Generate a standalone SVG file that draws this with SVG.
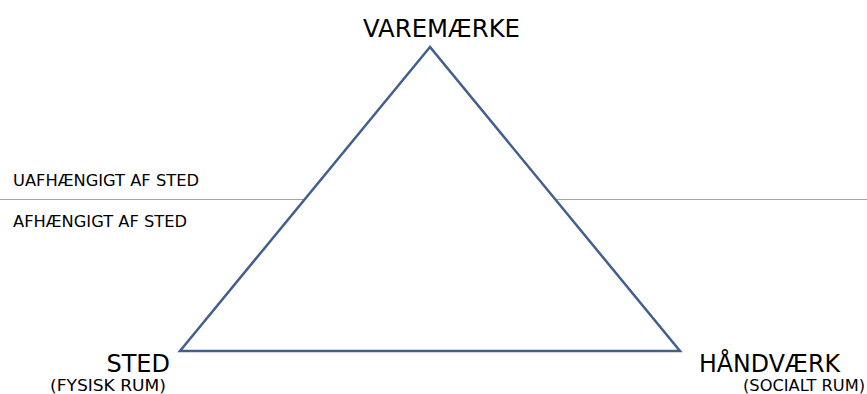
<svg xmlns="http://www.w3.org/2000/svg" width="867" height="394" viewBox="0 0 867 394">
<style>
text{font-family:"DejaVu Sans",Verdana,sans-serif;fill:#000}
.big{font-size:24px}
.small{font-size:16px}
</style>
<rect width="867" height="394" fill="#fff"/>
<g id="connectors">
<line x1="0" y1="199.5" x2="867" y2="199.5" stroke="#86a5dc" stroke-width="1"/>
</g>
<g id="triangle">
<polygon points="430,47 180,351 680,351" fill="#fff" stroke="#41608f" stroke-width="2.5" stroke-linejoin="miter"/>
</g>
<g id="varemaerke"><text class="big" x="363" y="37" textLength="157" lengthAdjust="spacingAndGlyphs">VAREMÆRKE</text></g>
<g id="uafhaengigt"><text class="small" x="13" y="186" textLength="186" lengthAdjust="spacingAndGlyphs">UAFHÆNGIGT AF STED</text></g>
<g id="afhaengigt"><text class="small" x="13" y="227" textLength="174" lengthAdjust="spacingAndGlyphs">AFHÆNGIGT AF STED</text></g>
<g id="sted"><text class="big" x="170" y="372" text-anchor="end">STED</text><text class="small" x="50" y="391" textLength="116" lengthAdjust="spacingAndGlyphs">(FYSISK RUM)</text></g>
<g id="handvaerk"><text class="big" x="699" y="372" textLength="141" lengthAdjust="spacingAndGlyphs">HÅNDVÆRK</text><text class="small" x="743" y="391" textLength="122" lengthAdjust="spacingAndGlyphs">(SOCIALT RUM)</text></g>
</svg>
